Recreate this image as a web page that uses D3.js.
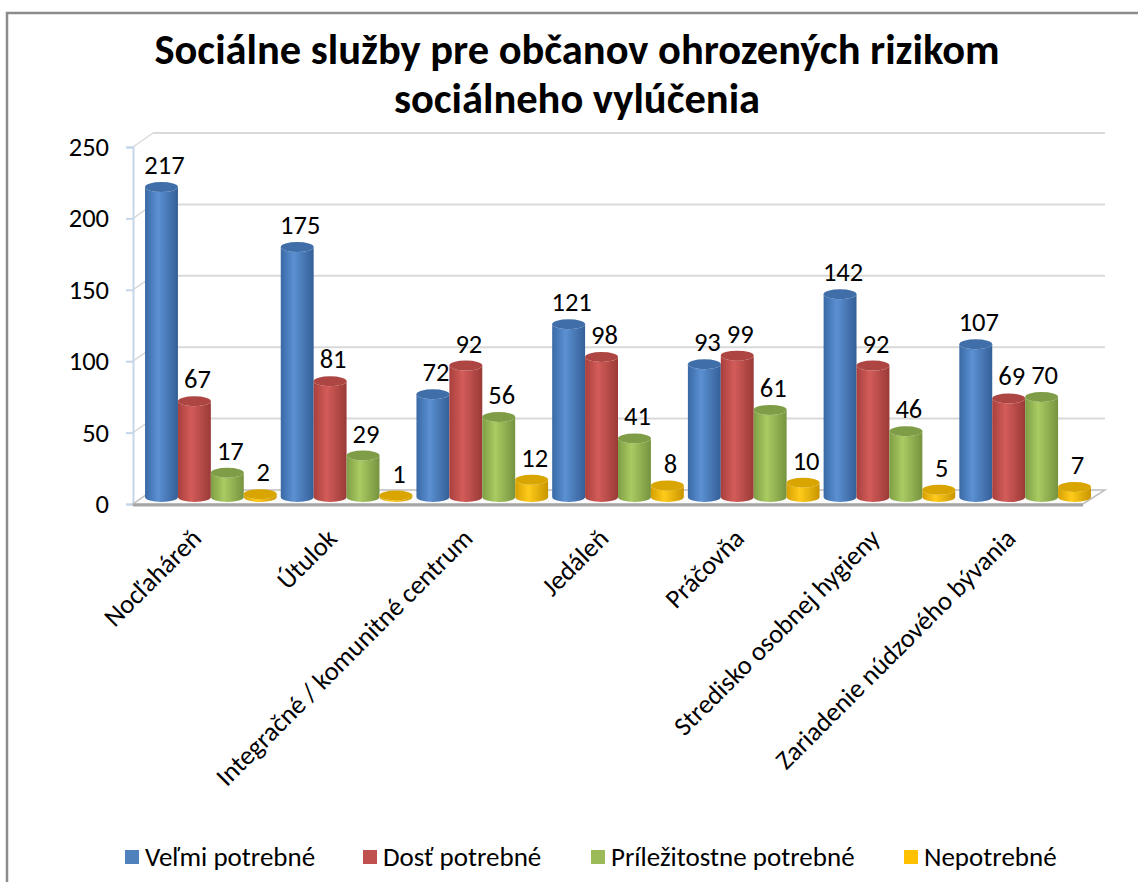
<!DOCTYPE html>
<html>
<head>
<meta charset="utf-8">
<script src="https://cdnjs.cloudflare.com/ajax/libs/d3/7.8.5/d3.min.js"></script>
<style>
  body { margin: 0; background: #fff; }
  svg text { font-family: Carlito, Lato, "Open Sans", sans-serif; fill: #000; }
</style>
</head>
<body>
<div id="chart-container"></div>
<script>
// data
var categories = ["Nocľaháreň", "Útulok", "Integračné / komunitné centrum", "Jedáleň",
  "Práčovňa", "Stredisko osobnej hygieny", "Zariadenie núdzového bývania"];
var seriesNames = ["Veľmi potrebné", "Dosť potrebné", "Príležitostne potrebné", "Nepotrebné"];
var velmiPotrebne = [217, 175, 72, 121, 93, 142, 107];
var dostPotrebne = [67, 81, 92, 98, 99, 92, 69];
var prilezitostne = [17, 29, 56, 41, 61, 46, 70];
var nepotrebne = [2, 1, 12, 8, 10, 5, 7];
var yTicks = [0, 50, 100, 150, 200, 250];
var titleLines = ["Sociálne služby pre občanov ohrozených rizikom", "sociálneho vylúčenia"];

var seriesValues = [velmiPotrebne, dostPotrebne, prilezitostne, nepotrebne];

// colours: [left edge, highlight, right edge, top]
var palette = [
  ["#3a6aa6", "#5b90d2", "#345f97", "#3f6ea8"],
  ["#a8403d", "#d35c59", "#9a3a37", "#ad4542"],
  ["#7f9e45", "#a9cb62", "#76933f", "#7f9c47"],
  ["#d6a000", "#ffcb1a", "#c89500", "#d9a500"]
];
var legendColors = ["#4f81bd", "#c0504d", "#9bbb59", "#ffc000"];

var width = 1138, height = 882;
var depthX = 20, depthY = -14; // 3d offset of the back wall

var svg = d3.select("#chart-container").append("svg")
  .attr("width", width)
  .attr("height", height);

// outer chart border
svg.append("rect")
  .attr("x", 7).attr("y", 13)
  .attr("width", 1150).attr("height", 900)
  .attr("fill", "none")
  .attr("stroke", "#8c8c8c")
  .attr("stroke-width", 2.5);

// title
svg.append("g").selectAll("text")
  .data(titleLines)
  .enter().append("text")
  .attr("x", 577)
  .attr("y", function(d, i) { return 64 + i * 49; })
  .attr("text-anchor", "middle")
  .style("font-size", "42.5px")
  .style("font-weight", "bold")
  .text(function(d) { return d; });

// scales (front plane)
var x0 = d3.scaleBand()
  .domain(categories)
  .range([133, 1083])
  .paddingInner(0.03)
  .paddingOuter(0.015);

var x1 = d3.scaleBand()
  .domain(d3.range(seriesNames.length))
  .range([0, x0.bandwidth()]);

var y = d3.scaleLinear()
  .domain([0, 250])
  .range([504, 147]);

// back wall grid lines + diagonals to the front axis
var grid = svg.append("g").attr("class", "grid");
grid.selectAll(".back")
  .data(yTicks.slice(1))
  .enter().append("line")
  .attr("x1", 133 + depthX).attr("x2", 1083 + depthX + 2)
  .attr("y1", function(d) { return y(d) + depthY; })
  .attr("y2", function(d) { return y(d) + depthY; })
  .attr("stroke", "#d9d9d9")
  .attr("stroke-width", 2);
grid.selectAll(".diag")
  .data(yTicks.slice(1))
  .enter().append("line")
  .attr("x1", 133).attr("x2", 133 + depthX)
  .attr("y1", function(d) { return y(d); })
  .attr("y2", function(d) { return y(d) + depthY; })
  .attr("stroke", "#d9d9d9")
  .attr("stroke-width", 1.5);

// left axis
var yAxis = d3.axisLeft(y).tickValues(yTicks).tickSize(7).tickPadding(17);
var axisG = svg.append("g")
  .attr("class", "y axis")
  .attr("transform", "translate(133,0)")
  .call(yAxis);
axisG.select(".domain").attr("stroke", "#c6d6ea").attr("stroke-width", 2);
axisG.selectAll(".tick line").attr("stroke", "#c6d6ea").attr("stroke-width", 2);
axisG.selectAll(".tick text")
  .style("font-size", "26.5px")
  .attr("fill", "#000");

// floor plate
var floorPts = [[133, y(0)], [1083, y(0)], [1083 + depthX + 2, y(0) + depthY], [133 + depthX, y(0) + depthY]];
svg.append("path")
  .attr("d", "M" + floorPts.map(function(p) { return p.join(","); }).join("L") + "Z")
  .attr("fill", "#fbfbfb")
  .attr("stroke", "#bfbfbf")
  .attr("stroke-width", 1.5);
svg.append("line")
  .attr("x1", 133).attr("x2", 1083)
  .attr("y1", y(0) + 1).attr("y2", y(0) + 1)
  .attr("stroke", "#a6a6a6")
  .attr("stroke-width", 3);

// gradients for cylinder bodies
var defs = svg.append("defs");
palette.forEach(function(c, i) {
  var g = defs.append("linearGradient")
    .attr("id", "cyl" + i)
    .attr("x1", "0%").attr("x2", "100%")
    .attr("y1", "0%").attr("y2", "0%");
  g.append("stop").attr("offset", "0%").attr("stop-color", c[0]);
  g.append("stop").attr("offset", "40%").attr("stop-color", c[1]);
  g.append("stop").attr("offset", "100%").attr("stop-color", c[2]);
});

// build bar table
var bars = [];
categories.forEach(function(cat, ci) {
  seriesValues.forEach(function(vals, si) {
    bars.push({ cat: cat, s: si, v: vals[ci] });
  });
});

var ry = 5;
function cylPath(xl, w, yTop, yBot) {
  var rx = w / 2;
  return "M" + xl + "," + yTop +
    " L" + xl + "," + yBot +
    " A" + rx + "," + ry + " 0 0 0 " + (xl + w) + "," + yBot +
    " L" + (xl + w) + "," + yTop +
    " A" + rx + "," + ry + " 0 0 1 " + xl + "," + yTop + "Z";
}

var barG = svg.append("g").attr("class", "bars")
  .attr("transform", "translate(" + depthX / 2 + "," + depthY / 2 + ")");

var cyl = barG.selectAll("g.cyl")
  .data(bars)
  .enter().append("g")
  .attr("class", "cyl");

cyl.append("path")
  .attr("d", function(d) {
    return cylPath(x0(d.cat) + x1(d.s), x1.bandwidth(), y(d.v), y(0));
  })
  .attr("fill", function(d) { return "url(#cyl" + d.s + ")"; });

cyl.append("ellipse")
  .attr("cx", function(d) { return x0(d.cat) + x1(d.s) + x1.bandwidth() / 2; })
  .attr("cy", function(d) { return y(d.v); })
  .attr("rx", x1.bandwidth() / 2)
  .attr("ry", ry)
  .attr("fill", function(d) { return palette[d.s][3]; });

// value labels
barG.selectAll(".label")
  .data(bars)
  .enter().append("text")
  .attr("class", "label")
  .attr("x", function(d) { return x0(d.cat) + x1(d.s) + x1.bandwidth() / 2 + 3; })
  .attr("y", function(d) { return y(d.v) - 13; })
  .attr("text-anchor", "middle")
  .style("font-size", "26.5px")
  .text(function(d) { return d.v; });

// rotated category labels
svg.append("g").selectAll("text")
  .data(categories)
  .enter().append("text")
  .attr("text-anchor", "end")
  .attr("transform", function(d) {
    return "translate(" + (x0(d) + x0.bandwidth() / 2 + 2) + ",540) rotate(-45)";
  })
  .style("font-size", "26.5px")
  .text(function(d) { return d; });

// legend
var legendX = [125, 363, 591, 904];
var legend = svg.append("g").selectAll("g")
  .data(seriesNames)
  .enter().append("g")
  .attr("transform", function(d, i) { return "translate(" + legendX[i] + ",850)"; });
legend.append("rect")
  .attr("width", 14).attr("height", 14)
  .attr("fill", function(d, i) { return legendColors[i]; });
legend.append("text")
  .attr("x", 20).attr("y", 7)
  .attr("dy", "0.35em")
  .style("font-size", "27px")
  .text(function(d) { return d; });
</script>
</body>
</html>
